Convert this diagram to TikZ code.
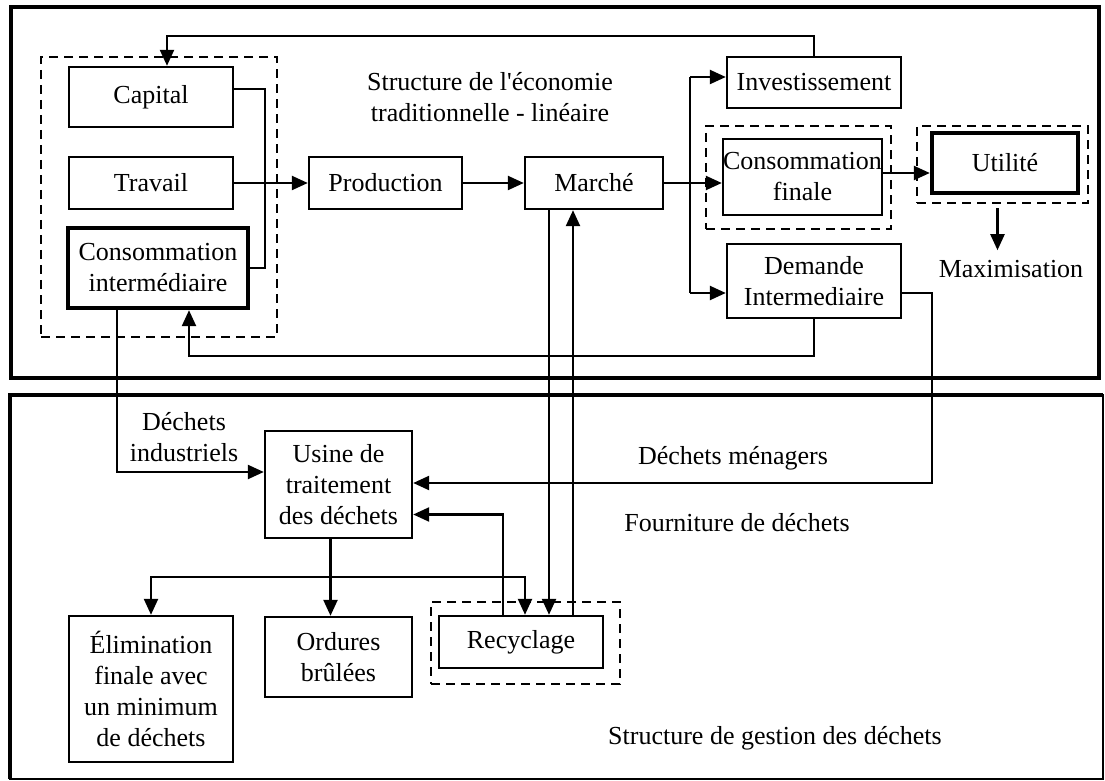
\documentclass[tikz,border=0pt]{standalone}
\usepackage{fontspec}
\setmainfont{Liberation Serif}[Ligatures=TeXOff]
\usetikzlibrary{arrows.meta}

\begin{document}
\begin{tikzpicture}[x=0.5pt, y=-0.5pt,
    font=\fontsize{13}{15.5}\selectfont,
    box/.style={draw, line width=1.2pt, inner sep=0pt, align=center},
    sz/.style 2 args={minimum width=#1*0.5pt, minimum height=#2*0.5pt},
    grp/.style={draw, line width=1.2pt, dash pattern=on 4.5pt off 3pt, inner sep=0pt},
    ligne/.style={line width=1.2pt},
    lien/.style={line width=1.2pt, -{Triangle[length=8pt,width=7pt]}}]
\useasboundingbox (0,0) rectangle (1105,781);

\draw[line width=2pt] (11,7) rectangle (1099,378);
\draw[line width=0.8pt] (10,395) rectangle (1103,779);
\draw[line width=2pt] (10,779) -- (10,395) -- (1103,395);

\node[grp, sz={236}{280}] (facteurs) at (159,197) {};
\node[grp, sz={185}{103}] (consofingrp) at (798.5,177.5) {};
\node[grp, sz={171}{77}] (utilgrp) at (1002.5,164.5) {};
\node[grp, sz={189}{82}] (recycgrp) at (525.5,643) {};

\node[box, sz={164}{60}] (capital) at (151,97) {Capital};
\node[box, sz={164}{52}] (travail) at (151,183) {Travail};
\node[box, sz={180}{80}, line width=2.2pt] (consoint) at (158,268) {Consommation\\intermédiaire};
\node[box, sz={153}{52}] (production) at (385.5,183) {Production};
\node[box, sz={138}{52}] (marche) at (594,183) {Marché};
\node[box, sz={174}{51}] (invest) at (814,82.5) {Investissement};
\node[box, sz={159}{76}] (consofin) at (802.5,177) {Consommation\\finale};
\node[box, sz={146}{60}, line width=2.2pt] (utilite) at (1005,163) {Utilité};
\node[box, sz={174}{74}] (demande) at (814,281) {Demande\\Intermediaire};
\node[box, sz={147}{107}] (usine) at (338.5,484.5) {Usine de\\traitement\\des déchets};
\node[box, sz={164}{146}] (elim) at (151,689) {Élimination\\finale avec\\un minimum\\de déchets};
\node[box, sz={147}{80}] (ordures) at (338.5,657) {Ordures\\brûlées};
\node[box, sz={164}{52}] (recyc) at (521,642) {Recyclage};

\node[align=center] (titre) at (490,97.5) {Structure de l'économie\\traditionnelle - linéaire};
\node (maxi) at (1011,269) {Maximisation};
\node[align=center] (industriels) at (184,437) {Déchets\\industriels};
\node (menagers) at (733,458) {Déchets ménagers};
\node (fourniture) at (737,523) {Fourniture de déchets};
\node (gestion) at (775,738) {Structure de gestion des déchets};

\coordinate (bk) at (265,183);
\coordinate (bt) at (690,77);
\coordinate (bb) at (690,293);
\coordinate (toph) at (167,36);
\coordinate (both) at (189,356);
\coordinate (menR) at (932,483);
\coordinate (ind) at (117,472);
\coordinate (br) at (331,577);
\coordinate[yshift=2pt] (cf) at (consofin.east);

\draw[ligne] ([yshift=4pt]capital.east) -| (bk) |- (consoint.east);
\draw[lien] (travail) -- (production);
\draw[lien] (production) -- (marche);
\draw[lien] (marche.east) -- (marche.east -| consofin.west);
\draw[ligne] (bt) -- (bb);
\draw[lien] (bt) -- (bt -| invest.west);
\draw[lien] (bb) -- (bb -| demande.west);
\draw[lien] (cf) -- (cf -| utilite.west);
\draw[lien] ([xshift=-2.5pt,yshift=-2pt]utilgrp.south) -- ++(0,42);
\draw[lien] (invest.north) |- (toph) -- (toph |- capital.north);
\draw[lien] (demande.south) |- (both) -- (both |- consoint.south);
\draw[lien] ([yshift=-6pt]demande.east) -| (menR) -- (menR -| usine.east);
\draw[lien] (consoint.south -| ind) -- (ind) -- (ind -| usine.west);
\draw[lien] ([xshift=-22.5pt]marche.south) -- ([xshift=14pt]recyc.north);
\draw[lien] ([xshift=26pt]recyc.north) -- ([xshift=-10.5pt]marche.south);
\draw[lien] ([xshift=-9pt]recyc.north) |- ([yshift=-15pt]usine.east);
\draw[lien] ([xshift=-4pt]usine.south) -- ([xshift=-4pt]ordures.north);
\draw[lien] (br) -| (elim.north);
\draw[lien] (br) -| ([xshift=2pt]recyc.north);
\end{tikzpicture}
\end{document}
